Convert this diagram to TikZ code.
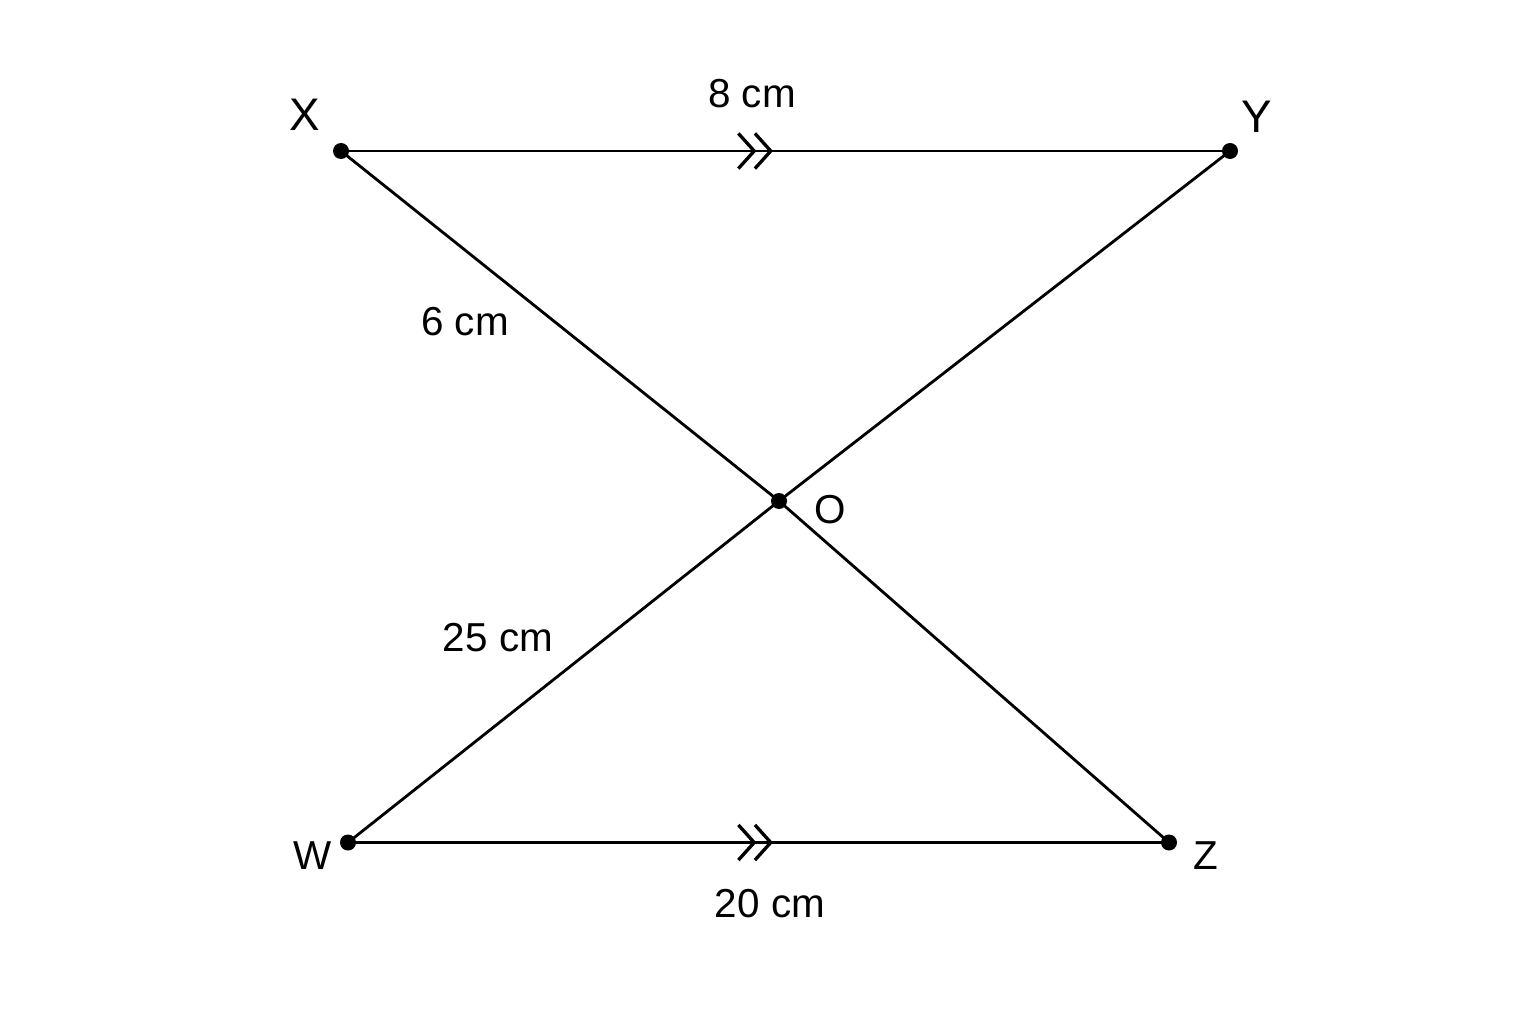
\documentclass[tikz,border=0pt]{standalone}
\usepackage{fontspec}
\setmainfont{Liberation Sans}
\usetikzlibrary{calc}
\usetikzlibrary{arrows.meta}

\tikzset{
  pt/.style={fill=black},
  lbl/.style={font=\fontsize{11.5pt}{13pt}\selectfont, inner sep=0pt},
  vtx/.style={font=\fontsize{13pt}{15pt}\selectfont, inner sep=0pt},
  par/.style={-{Straight Barb[length=4.5pt,width=10pt,line width=0.95pt,sep=-0.9pt] Straight Barb[length=4.5pt,width=10pt,line width=0.95pt]}}
}

\begin{document}
\begin{tikzpicture}[line width=0.8pt]
      \useasboundingbox (0,0) rectangle (15.36,10.24);

      \coordinate (X) at (3.41,8.73);
      \coordinate (Y) at (12.30,8.73);
      \coordinate (O) at (7.79,5.23);
      \coordinate (W) at (3.48,1.815);
      \coordinate (Z) at (11.69,1.815);

      \draw (X) -- (Y);
      \draw (W) -- (Z);
      \draw (X) -- (O) -- (Z);
      \draw (Y) -- (O) -- (W);

      % parallel marks
      \coordinate (mXY) at (7.73,8.73);
      \coordinate (mWZ) at (7.73,1.815);
      \draw[par] ($(mXY)+(-0.4,0)$) -- (mXY);
      \draw[par] ($(mWZ)+(-0.4,0)$) -- (mWZ);

      \fill[pt] (X) circle(0.08cm);
      \fill[pt] (Y) circle(0.08cm);
      \fill[pt] (O) circle(0.08cm);
      \fill[pt] (W) circle(0.08cm);
      \fill[pt] (Z) circle(0.08cm);

      \node[vtx] (lX) at (3.05,9.09) {X};
      \node[vtx] (lY) at (12.57,9.07) {Y};
      \node[lbl] (lO) at (8.30,5.14) {O};
      \node[lbl] (lW) at (3.13,1.68) {W};
      \node[lbl] (lZ) at (12.06,1.68) {Z};

      \node[lbl] (xy) at (7.52,9.30) {8 cm};
      \node[lbl] (xo) at (4.65,7.02) {6 cm};
      \node[lbl] (wo) at (4.98,3.86) {25 cm};
      \node[lbl] (wz) at (7.70,1.20) {20 cm};
    \end{tikzpicture}
\end{document}
